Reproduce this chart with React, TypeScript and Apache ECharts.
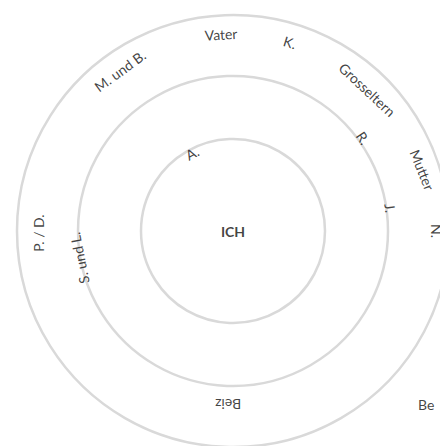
import React, { useEffect, useRef } from "react";
import * as echarts from "echarts";

// Label texts of the circle diagram and their polar placement (radius px, angle deg CCW from east)
const labelNames = ["ICH", "Vater", "K.", "M. und B.", "Grosseltern", "Mutter", "N.", "P. / D.", "Beiz", "Be", "R.", "J.", "A.", "S. und L."];
const labelRadius = [0, 197, 197, 196, 195, 199, 203, 195, 174, 260, 160, 159, 88, 156];
const labelAngle = [0, 93.5, 73.2, 125.2, 46.5, 17.9, 0, 180.6, 268.4, 318, 35.6, 8.3, 117.7, 190];
const labelRotate = [0, 3.5, -17, 36, -43, -68, -90, 90, 180, 0, -56, -82, 28, 101];
const ringRadius = [92, 155, 216];

const CX = 233;
const CY = 231;
const POLAR_R = 260;

export default function App() {
  const ref = useRef<HTMLDivElement>(null);
  useEffect(() => {
    if (!ref.current) return;
    const chart = echarts.init(ref.current, null, { renderer: "svg" });
    const data = labelNames.map((n, i) => ({
      name: n,
      value: [labelRadius[i], labelAngle[i]],
      label: {
        rotate: labelRotate[i],
        fontWeight: n === "ICH" ? "bold" : "normal",
        fontSize: n === "ICH" ? 14 : 14,
      },
    }));
    chart.setOption({
      animation: false,
      backgroundColor: "#ffffff",
      polar: { center: [CX, CY], radius: POLAR_R },
      angleAxis: {
        type: "value",
        min: 0,
        max: 360,
        startAngle: 0,
        clockwise: false,
        show: false,
      },
      radiusAxis: { type: "value", min: 0, max: POLAR_R, show: false },
      graphic: ringRadius.map((r) => ({
        type: "circle",
        shape: { cx: CX, cy: CY, r },
        style: { fill: "none", stroke: "#d9d9d9", lineWidth: 2.5 },
        z: 0,
      })),
      series: [
        {
          type: "scatter",
          coordinateSystem: "polar",
          symbolSize: 1,
          clip: false,
          itemStyle: { color: "rgba(0,0,0,0)" },
          label: {
            show: true,
            position: "inside",
            formatter: "{b}",
            fontFamily: "Lato",
            fontSize: 14,
            color: "#111111",
          },
          emphasis: { disabled: true },
          data,
          z: 5,
        },
      ],
    });
    return () => chart.dispose();
  }, []);
  return <div ref={ref} style={{ width: 440, height: 446, position: "absolute", left: 0, top: 0 }} />;
}
